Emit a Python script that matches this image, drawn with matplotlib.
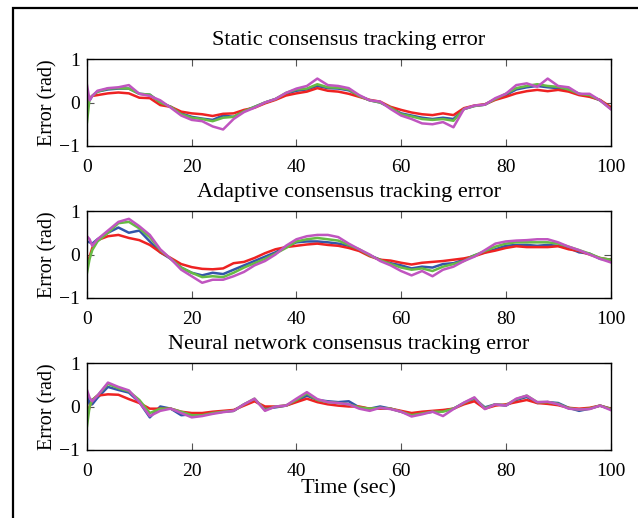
import matplotlib
matplotlib.use("Agg")
import matplotlib.pyplot as plt
import numpy as np
from matplotlib.patches import Rectangle

plt.rcParams['font.family'] = ['Liberation Serif', 'DejaVu Serif']
plt.rcParams['font.size'] = 14

# sample times (sec)
t = [0, 0.5, 1] + list(range(2, 101, 2))

# static consensus
static_red = [0.0, 0.1, 0.15, 0.17, 0.21, 0.23, 0.21, 0.11, 0.10, -0.06, -0.10, -0.21, -0.25,
              -0.27, -0.31, -0.26, -0.25, -0.17, -0.12, -0.02, 0.06, 0.16, 0.21, 0.25, 0.33,
              0.27, 0.25, 0.20, 0.13, 0.06, 0.02, -0.10, -0.17, -0.23, -0.27, -0.29, -0.25,
              -0.29, -0.13, -0.07, -0.04, 0.06, 0.13, 0.21, 0.26, 0.29, 0.26, 0.29, 0.25,
              0.17, 0.13, 0.06, -0.10]
static_blue = [0.10, 0.05, 0.15, 0.25, 0.30, 0.32, 0.32, 0.20, 0.18, 0.0, -0.10, -0.25, -0.33,
               -0.37, -0.40, -0.30, -0.33, -0.20, -0.10, 0.0, 0.08, 0.20, 0.27, 0.30, 0.38,
               0.33, 0.32, 0.28, 0.15, 0.05, 0.0, -0.12, -0.25, -0.30, -0.35, -0.38, -0.35,
               -0.38, -0.15, -0.08, -0.05, 0.08, 0.17, 0.30, 0.35, 0.38, 0.35, 0.33, 0.30,
               0.20, 0.15, 0.05, -0.12]
static_green = [-0.45, 0.10, 0.15, 0.25, 0.32, 0.33, 0.32, 0.20, 0.18, 0.0, -0.10, -0.27, -0.35,
                -0.38, -0.43, -0.35, -0.33, -0.20, -0.10, 0.0, 0.08, 0.22, 0.30, 0.32, 0.42,
                0.35, 0.34, 0.30, 0.15, 0.05, 0.0, -0.12, -0.27, -0.32, -0.38, -0.40, -0.38,
                -0.42, -0.15, -0.08, -0.05, 0.08, 0.20, 0.33, 0.38, 0.42, 0.38, 0.36, 0.30,
                0.20, 0.17, 0.05, -0.14]
static_magenta = [0.40, 0.05, 0.15, 0.27, 0.33, 0.35, 0.40, 0.20, 0.15, 0.05, -0.12, -0.30, -0.40,
                  -0.43, -0.55, -0.62, -0.38, -0.22, -0.12, 0.0, 0.08, 0.22, 0.32, 0.38, 0.55,
                  0.40, 0.38, 0.33, 0.17, 0.05, 0.02, -0.15, -0.30, -0.38, -0.48, -0.50, -0.45,
                  -0.57, -0.15, -0.07, -0.05, 0.10, 0.20, 0.40, 0.44, 0.36, 0.55, 0.38, 0.35,
                  0.20, 0.20, 0.05, -0.15]

# adaptive consensus
adaptive_red = [-0.27, -0.05, 0.15, 0.33, 0.42, 0.45, 0.38, 0.33, 0.22, 0.05, -0.08, -0.22, -0.29,
                -0.33, -0.34, -0.32, -0.20, -0.17, -0.08, 0.03, 0.12, 0.17, 0.20, 0.23, 0.25,
                0.22, 0.20, 0.15, 0.08, -0.04, -0.12, -0.14, -0.19, -0.23, -0.19, -0.17, -0.15,
                -0.12, -0.09, -0.04, 0.04, 0.09, 0.15, 0.19, 0.17, 0.17, 0.17, 0.19, 0.12,
                0.08, 0.0, -0.08, -0.12]
adaptive_blue = [0.30, 0.28, 0.25, 0.35, 0.50, 0.62, 0.50, 0.55, 0.30, 0.05, -0.10, -0.30, -0.42,
                 -0.48, -0.42, -0.45, -0.35, -0.25, -0.15, -0.05, 0.05, 0.18, 0.28, 0.30, 0.30,
                 0.28, 0.25, 0.20, 0.10, -0.02, -0.12, -0.20, -0.25, -0.32, -0.28, -0.30, -0.22,
                 -0.20, -0.12, -0.02, 0.05, 0.12, 0.20, 0.22, 0.22, 0.20, 0.22, 0.20, 0.15,
                 0.05, 0.02, -0.10, -0.12]
adaptive_green = [-0.42, -0.10, 0.10, 0.30, 0.50, 0.72, 0.75, 0.60, 0.40, 0.10, -0.10, -0.30, -0.42,
                  -0.52, -0.50, -0.52, -0.42, -0.30, -0.20, -0.10, 0.02, 0.15, 0.30, 0.35, 0.38,
                  0.35, 0.32, 0.22, 0.12, -0.02, -0.13, -0.22, -0.30, -0.35, -0.32, -0.38, -0.28,
                  -0.22, -0.15, -0.02, 0.08, 0.18, 0.25, 0.28, 0.28, 0.28, 0.28, 0.25, 0.18,
                  0.10, 0.02, -0.08, -0.12]
adaptive_magenta = [0.42, 0.35, 0.20, 0.35, 0.55, 0.75, 0.82, 0.65, 0.45, 0.12, -0.10, -0.35, -0.50,
                    -0.65, -0.58, -0.58, -0.50, -0.40, -0.25, -0.15, 0.0, 0.20, 0.35, 0.42, 0.45,
                    0.45, 0.40, 0.25, 0.12, 0.0, -0.15, -0.25, -0.38, -0.48, -0.38, -0.50, -0.35,
                    -0.28, -0.15, -0.05, 0.10, 0.25, 0.30, 0.32, 0.33, 0.35, 0.35, 0.28, 0.18,
                    0.10, 0.0, -0.10, -0.18]

# neural network consensus
neural_red = [-0.25, 0.0, 0.15, 0.25, 0.28, 0.27, 0.17, 0.08, -0.05, -0.05, -0.05, -0.12, -0.15,
              -0.15, -0.12, -0.10, -0.08, 0.02, 0.12, 0.0, 0.0, 0.02, 0.10, 0.18, 0.10,
              0.05, 0.02, 0.0, 0.0, -0.05, -0.05, -0.05, -0.10, -0.15, -0.12, -0.10, -0.08,
              -0.05, 0.05, 0.12, -0.05, 0.02, 0.05, 0.10, 0.15, 0.08, 0.06, 0.03, -0.03,
              -0.05, -0.03, 0.02, -0.05]
neural_blue = [0.30, 0.05, 0.05, 0.20, 0.45, 0.38, 0.32, 0.10, -0.25, 0.0, -0.05, -0.20, -0.18,
               -0.20, -0.15, -0.12, -0.10, 0.05, 0.15, -0.05, -0.02, 0.02, 0.12, 0.25, 0.15,
               0.12, 0.10, 0.12, -0.02, -0.05, 0.0, -0.05, -0.12, -0.18, -0.15, -0.12, -0.10,
               -0.05, 0.08, 0.18, -0.02, 0.05, 0.02, 0.15, 0.22, 0.08, 0.10, 0.08, -0.03,
               -0.10, -0.05, 0.02, -0.05]
neural_green = [-0.45, 0.0, 0.15, 0.25, 0.52, 0.42, 0.35, 0.15, -0.15, -0.05, -0.05, -0.12, -0.20,
                -0.20, -0.15, -0.12, -0.10, 0.05, 0.18, -0.08, 0.0, 0.02, 0.15, 0.30, 0.15,
                0.10, 0.08, 0.05, -0.02, -0.05, -0.03, -0.05, -0.12, -0.20, -0.16, -0.12, -0.12,
                -0.05, 0.08, 0.20, -0.04, 0.05, 0.03, 0.17, 0.25, 0.10, 0.10, 0.06, -0.04,
                -0.07, -0.05, 0.02, -0.06]
neural_magenta = [0.38, 0.20, 0.12, 0.25, 0.55, 0.45, 0.37, 0.10, -0.22, -0.10, -0.05, -0.15, -0.25,
                  -0.22, -0.17, -0.13, -0.10, 0.05, 0.18, -0.10, 0.0, 0.02, 0.18, 0.33, 0.17,
                  0.10, 0.08, 0.05, -0.05, -0.10, -0.03, -0.06, -0.12, -0.23, -0.18, -0.12, -0.22,
                  -0.06, 0.09, 0.21, -0.06, 0.05, 0.02, 0.18, 0.25, 0.10, 0.11, 0.05, -0.05,
                  -0.07, -0.06, 0.02, -0.08]

titles = ['Static consensus tracking error',
          'Adaptive consensus tracking error',
          'Neural network consensus tracking error']
panels = [(static_blue, static_red, static_green, static_magenta),
          (adaptive_blue, adaptive_red, adaptive_green, adaptive_magenta),
          (neural_blue, neural_red, neural_green, neural_magenta)]
colors = ['#3355aa', '#ee2222', '#66bb44', '#c055c0']

fig = plt.figure(figsize=(6.38, 5.18), dpi=100)
W, H = 638, 518
boxes = [(59, 146), (211, 298), (363, 450)]

for k, (top, bot) in enumerate(boxes):
    ax = fig.add_axes([87 / W, 1 - bot / H, 523.5 / W, (bot - top) / H])
    for y, c in zip(panels[k], colors):
        ax.plot(t, y, color=c, lw=1.8)
    ax.set_xlim(0, 100)
    ax.set_ylim(-1, 1)
    ax.set_xticks([0, 20, 40, 60, 80, 100])
    ax.set_yticks([-1, 0, 1])
    ax.set_yticklabels(['\u22121', '0', '1'])
    ax.tick_params(direction='in', top=True, right=True, length=5, width=0.8,
                   color='#555555', labelsize=14)
    ax.tick_params(axis='x', pad=9)
    ax.tick_params(axis='y', pad=5)
    for s in ax.spines.values():
        s.set_linewidth(1.0)
    ax.set_title(titles[k], fontsize=16, pad=10)
    ax.set_ylabel('Error (rad)', fontsize=14.5, labelpad=1)
    if k == 2:
        ax.set_xlabel('Time (sec)', fontsize=16, labelpad=0)

# outer frame
fig.patches.append(Rectangle((13 / W, -0.2), 1.2, 1.2 - 8 / H, transform=fig.transFigure,
                             fill=False, edgecolor='black', lw=1.6))

fig.savefig('out.png', dpi=100)
